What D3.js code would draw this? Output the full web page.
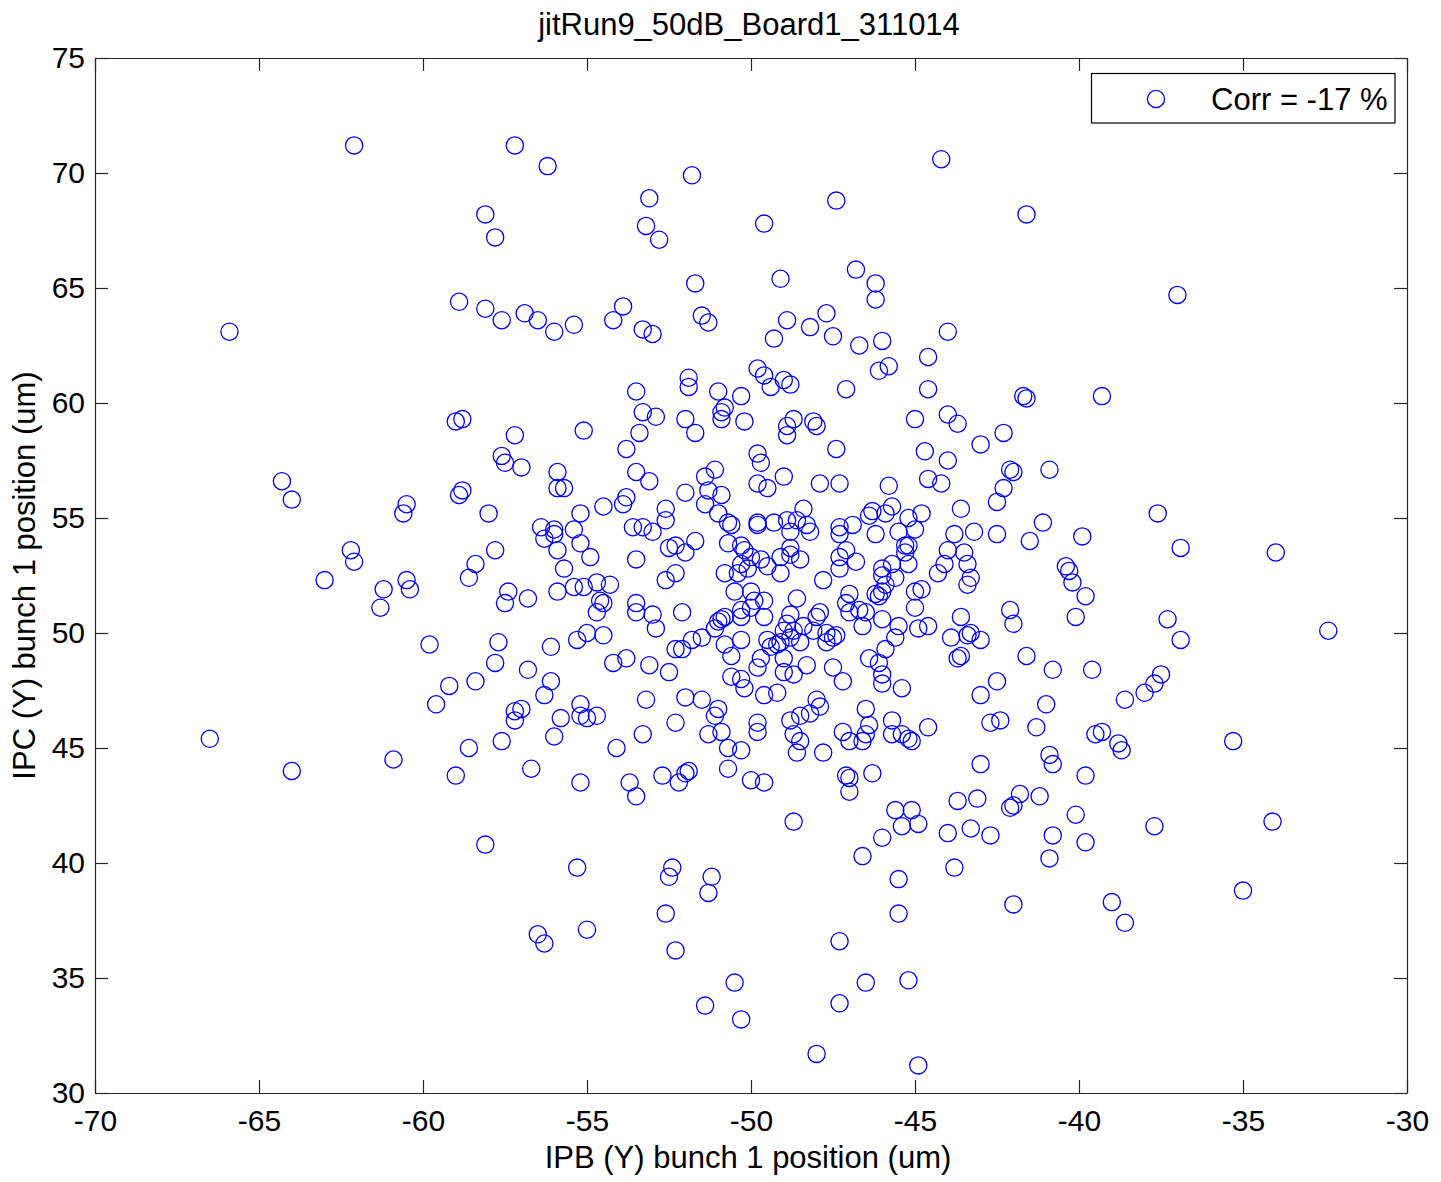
<!DOCTYPE html>
<html><head><meta charset="utf-8">
<script src="https://cdn.jsdelivr.net/npm/d3@7"></script>
<style>
body{margin:0;background:#fff}
svg{display:block}
text{font-family:"Liberation Sans",Arial,Helvetica,sans-serif;fill:#000}
</style>
</head><body>
<svg id="chart" width="1441" height="1182"></svg>
<script>
const titleText = "jitRun9_50dB_Board1_311014";
const xLabelText = "IPB (Y) bunch 1 position (um)";
const yLabelText = "IPC (Y) bunch 1 position (um)";
const legendLabel = "Corr = -17 %";
const xTicks = [-70, -65, -60, -55, -50, -45, -40, -35, -30];
const yTicks = [30, 35, 40, 45, 50, 55, 60, 65, 70, 75];

// [IPB (Y), IPC (Y)] pairs
const pointsUpperLeft = [
  [-62.1,71.2],[-65.9,63.1],[-57.2,71.2],[-56.2,70.3],[-51.8,69.9],[-53.1,68.9],[-58.1,68.2],[-57.8,67.2],[-53.2,67.7],[-52.8,67.1],
  [-51.7,65.2],[-58.9,64.4],[-58.1,64.1],[-57.6,63.6],[-56.9,63.9],[-56.5,63.6],[-56.0,63.1],[-55.4,63.4],[-54.2,63.6],[-53.9,64.2],
  [-53.3,63.2],[-53.0,63.0],[-51.5,63.8],[-51.3,63.5],[-51.9,61.1],[-51.9,60.7],[-53.5,60.5],[-51.0,60.5],[-50.3,60.3]
];
const pointsUpperRight = [
  [-44.2,70.6],[-47.4,68.8],[-49.6,67.8],[-41.6,68.2],[-49.1,65.4],[-46.8,65.8],[-46.2,65.2],[-46.2,64.5],[-48.9,63.6],[-48.2,63.3],
  [-47.7,63.9],[-49.3,62.8],[-47.5,62.9],[-46.7,62.5],[-46.0,62.7],[-44.0,63.1],[-44.6,62.0],[-45.8,61.6],[-46.1,61.4],[-49.8,61.5],
  [-49.6,61.2],[-49.0,61.0],[-49.4,60.7],[-48.8,60.8],[-47.1,60.6],[-44.6,60.6],[-41.7,60.3],[-41.6,60.2],[-37.0,64.7],[-39.3,60.3]
];
const pointsFarLeft = [
  [-64.3,56.6],[-64.0,55.8],[-60.5,55.6],[-60.6,55.2],[-62.2,53.6],[-62.1,53.1],[-63.0,52.3],[-60.5,52.3],[-60.4,51.9],[-61.2,51.9],
  [-61.3,51.1],[-59.8,49.5],[-66.5,45.4],[-64.0,44.0],[-60.9,44.5]
];
const pointsCenterLeft = [
  [-59.0,59.2],[-58.8,59.3],[-57.2,58.6],[-55.1,58.8],[-57.6,57.7],[-57.5,57.4],[-57.0,57.2],[-55.9,57.0],[-55.9,56.3],[-55.7,56.3],
  [-58.9,56.0],[-58.8,56.2],[-58.0,55.2],[-55.2,55.2],[-54.5,55.5],[-53.9,55.6],[-53.8,55.9],[-53.3,59.6],[-52.9,59.4],[-53.4,58.7],
  [-53.8,58.0],[-52.0,59.3],[-51.7,58.7],[-50.9,59.3],[-50.9,59.6],[-50.8,59.8],[-50.2,59.2],[-53.5,57.0],[-53.1,56.6],[-52.0,56.1],
  [-51.4,56.8],[-51.1,57.1],[-51.3,56.2],[-50.9,56.0],[-51.4,55.6],[-51.0,55.2],[-50.7,54.8],[-50.6,54.7],[-50.7,53.9],[-50.3,53.8],
  [-50.2,53.6],[-52.6,55.4],[-52.6,54.9],[-53.6,54.6],[-53.3,54.6],[-53.0,54.4],[-56.4,54.6],[-56.3,54.1],[-56.0,54.5],[-56.0,54.3],
  [-55.4,54.5],[-55.2,53.9],[-55.9,53.6],[-54.9,53.3],[-55.7,52.8],[-57.8,53.6],[-58.4,53.0],[-58.6,52.4],[-52.5,53.7],[-52.3,53.8],
  [-51.7,54.0],[-52.0,53.5],[-53.5,53.2],[-50.8,52.6],[-50.4,52.6],[-50.3,53.0],[-50.1,52.8],[-50.5,51.8],[-52.3,52.6],[-52.6,52.3],
  [-57.4,51.8],[-57.5,51.3],[-56.8,51.5],[-55.9,51.8],[-55.4,52.0],[-55.1,52.0],[-54.7,52.2],[-54.3,52.1],[-54.6,51.4],[-54.5,51.3],
  [-54.7,50.9],[-53.5,51.3],[-53.5,50.9],[-53.0,50.8],[-52.9,50.2],[-52.1,50.9],[-51.0,50.5],[-50.9,50.6],[-50.8,50.7],[-50.3,50.7],
  [-50.3,51.0],[-50.0,51.1],[-51.1,50.2],[-50.3,49.7],[-50.8,49.5],[-50.6,49.0],[-51.5,49.8],[-51.8,49.7],[-52.1,49.3],[-52.3,49.3],
  [-57.7,49.6],[-57.8,48.7],[-56.1,49.4],[-55.3,49.7],[-55.0,50.0],[-54.5,49.9],[-54.2,48.7],[-53.8,48.9],[-53.1,48.6],[-52.5,48.3],
  [-56.8,48.4],[-58.4,47.9],[-59.2,47.7],[-59.6,46.9],[-56.1,47.9],[-56.3,47.3],[-57.2,46.6],[-57.0,46.7],[-57.2,46.2],[-55.2,46.9],
  [-55.2,46.4],[-55.0,46.3],[-54.7,46.4],[-55.8,46.3],[-56.0,45.5],[-57.6,45.3],[-58.6,45.0],[-54.1,45.0],[-53.3,45.6],[-53.2,47.1],
  [-52.0,47.2],[-51.5,47.1],[-51.0,46.7],[-51.1,46.4],[-52.3,46.1],[-51.3,45.6],[-50.9,45.7],[-50.6,48.1],[-50.3,48.0],[-50.2,47.6],
  [-50.7,45.0],[-50.3,44.9]
];
const pointsCenterRight = [
  [-48.7,59.3],[-48.9,59.0],[-48.9,58.6],[-48.1,59.2],[-48.0,59.0],[-47.4,58.0],[-49.8,57.8],[-49.7,57.4],[-49.0,56.8],[-49.8,56.5],
  [-49.5,56.3],[-47.9,56.5],[-47.3,56.5],[-45.0,59.3],[-44.0,59.5],[-43.7,59.1],[-42.3,58.7],[-43.0,58.2],[-44.7,57.9],[-44.0,57.5],
  [-42.1,57.1],[-42.0,57.0],[-40.9,57.1],[-42.3,56.3],[-42.5,55.7],[-44.6,56.7],[-44.2,56.5],[-45.8,56.4],[-43.6,55.4],[-41.1,54.8],
  [-41.5,54.0],[-42.5,54.3],[-43.2,54.4],[-43.8,54.3],[-48.4,55.4],[-46.3,55.3],[-46.4,55.1],[-45.9,55.2],[-45.7,55.5],[-44.8,55.2],
  [-45.2,55.0],[-45.0,54.5],[-45.5,54.4],[-46.2,54.3],[-46.9,54.7],[-47.3,54.6],[-47.3,54.3],[-49.8,54.8],[-49.8,54.7],[-49.3,54.8],
  [-48.9,54.9],[-48.6,54.9],[-48.8,54.4],[-48.3,54.7],[-48.2,54.4],[-48.8,53.7],[-50.0,53.3],[-49.7,53.2],[-49.1,53.3],[-48.8,53.4],
  [-48.5,53.2],[-49.5,52.9],[-49.1,52.6],[-47.1,53.6],[-46.8,53.1],[-47.3,53.3],[-47.3,52.8],[-47.8,52.3],[-45.3,53.8],[-45.2,53.8],
  [-45.3,53.5],[-45.2,53.0],[-46.0,52.8],[-45.7,53.0],[-45.6,52.4],[-46.0,52.5],[-45.9,52.1],[-46.0,51.8],[-46.1,51.6],[-46.2,51.7],
  [-44.0,53.6],[-43.5,53.5],[-44.1,53.0],[-44.3,52.6],[-43.4,53.0],[-43.3,52.4],[-43.4,52.1],[-40.4,52.9],[-40.3,52.7],[-40.2,52.2],
  [-44.8,51.9],[-45.0,51.8],[-45.0,51.1],[-50.0,51.8],[-49.9,51.4],[-49.6,51.4],[-48.6,51.5],[-49.6,50.7],[-47.0,51.7],[-47.1,51.3],
  [-47.0,50.9],[-46.7,51.0],[-46.5,50.9],[-46.6,50.3],[-46.0,50.6],[-48.8,50.8],[-47.9,50.9],[-48.0,50.7],[-48.4,50.3],[-48.9,50.4],
  [-49.0,50.1],[-48.7,50.1],[-48.1,50.1],[-47.7,50.0],[-47.4,49.9],[-47.5,49.8],[-47.7,49.6],[-48.5,49.6],[-48.8,49.8],[-49.1,49.6],
  [-49.2,49.5],[-49.5,49.7],[-49.4,49.4],[-45.5,50.3],[-45.6,49.8],[-45.9,49.3],[-46.4,48.9],[-46.1,48.7],[-44.9,50.2],[-44.6,50.3],
  [-43.6,50.7],[-43.9,49.8],[-43.4,49.9],[-43.3,50.0],[-43.0,49.7],[-43.6,49.0],[-43.7,48.9],[-42.1,51.0],[-42.0,50.4],[-40.1,50.7],
  [-41.6,49.0],[-40.8,48.4],[-42.5,47.9],[-43.0,47.3],[-41.0,46.9],[-41.3,45.9],[-42.7,46.1],[-42.4,46.2],[-44.6,45.9],[-49.7,48.9],
  [-49.8,48.5],[-49.0,48.9],[-49.0,48.3],[-48.7,48.2],[-48.3,48.6],[-47.5,48.5],[-47.2,47.9],[-46.0,48.2],[-46.0,47.8],[-45.4,47.6],
  [-49.6,47.3],[-49.2,47.4],[-48.0,47.1],[-47.9,46.8],[-48.2,46.5],[-48.5,46.4],[-48.8,46.2],[-48.7,45.6],[-48.5,45.3],[-49.8,46.1],
  [-49.8,45.7],[-46.5,46.7],[-46.4,46.0],[-46.5,45.6],[-46.6,45.3],[-47.2,45.7],[-47.0,45.3],[-45.7,46.2],[-45.7,45.6],[-45.4,45.6],
  [-45.2,45.4],[-45.1,45.3],[-47.8,44.8],[-40.9,44.7]
];
const pointsFarRight = [
  [-37.6,55.2],[-39.9,54.2],[-36.9,53.7],[-34.0,53.5],[-39.8,51.6],[-37.3,50.6],[-36.9,49.7],[-32.4,50.1],[-39.6,48.4],[-37.5,48.2],
  [-37.7,47.8],[-38.0,47.4],[-38.6,47.1],[-39.5,45.6],[-39.3,45.7],[-38.8,45.2],[-38.7,44.9],[-35.3,45.3]
];
const pointsLowerLeft = [
  [-59.0,43.8],[-56.7,44.1],[-55.2,43.5],[-53.7,43.5],[-53.5,42.9],[-52.7,43.8],[-52.2,43.5],[-52.0,43.9],[-51.9,44.0],[-50.7,44.1],
  [-58.1,40.8],[-55.3,39.8],[-52.4,39.8],[-52.5,39.4],[-51.2,39.4],[-51.3,38.7],[-52.6,37.8],[-56.5,36.9],[-56.3,36.5],[-55.0,37.1],
  [-52.3,36.2],[-50.5,34.8],[-51.4,33.8],[-50.3,33.2]
];
const pointsLowerRight = [
  [-40.8,44.3],[-43.0,44.3],[-50.0,43.6],[-49.6,43.5],[-47.1,43.8],[-47.0,43.7],[-47.0,43.1],[-46.3,43.9],[-48.7,41.8],[-45.6,42.3],
  [-45.1,42.3],[-45.4,41.6],[-44.9,41.7],[-46.0,41.1],[-46.6,40.3],[-43.7,42.7],[-43.1,42.8],[-41.8,43.0],[-41.2,42.9],[-42.1,42.4],
  [-42.0,42.5],[-44.0,41.3],[-43.3,41.5],[-42.7,41.2],[-40.8,41.2],[-40.9,40.2],[-40.1,42.1],[-43.8,39.8],[-45.5,39.3],[-45.5,37.8],
  [-42.0,38.2],[-47.3,36.6],[-46.5,34.8],[-45.2,34.9],[-47.3,33.9],[-48.0,31.7],[-44.9,31.2],[-48.6,44.8],
  [-39.8,43.8],[-37.7,41.6],[-39.8,40.9],[-34.1,41.8],[-35.0,38.8],[-39.0,38.3],[-38.6,37.4]
];

const points = [].concat(pointsUpperLeft, pointsUpperRight, pointsFarLeft, pointsCenterLeft,
  pointsCenterRight, pointsFarRight, pointsLowerLeft, pointsLowerRight);

const FONT = 31;
const TICK_FONT = 30;
const axisColor = "#262626";
const markerColor = "#0000ff";
const plot = {left: 95, right: 1407, top: 58, bottom: 1093};

const svg = d3.select("#chart");
svg.append("rect").attr("width", 1441).attr("height", 1182).attr("fill", "#fff");

const x = d3.scaleLinear().domain([-70, -30]).range([plot.left, plot.right]);
const y = d3.scaleLinear().domain([30, 75]).range([plot.bottom, plot.top]);

const fmt = d => String(d);
function styleAxis(g) {
  g.selectAll("path.domain").attr("stroke", axisColor).attr("stroke-width", 1.2);
  g.selectAll(".tick line").attr("stroke", axisColor).attr("stroke-width", 1.2);
  g.selectAll(".tick text").attr("font-size", TICK_FONT).attr("fill", "#000")
    .attr("font-family", '"Liberation Sans", Arial, Helvetica, sans-serif');
}

// points (drawn beneath axes)
svg.append("g").selectAll("circle").data(points).join("circle")
  .attr("cx", d => x(d[0])).attr("cy", d => y(d[1])).attr("r", 8.6)
  .attr("fill", "none").attr("stroke", markerColor).attr("stroke-width", 1.3);

const gB = svg.append("g").attr("transform", `translate(0,${plot.bottom})`)
  .call(d3.axisBottom(x).tickValues(xTicks).tickFormat(fmt).tickSizeInner(-13).tickSizeOuter(0).tickPadding(17));
styleAxis(gB);
const gT = svg.append("g").attr("transform", `translate(0,${plot.top})`)
  .call(d3.axisTop(x).tickValues(xTicks).tickFormat("").tickSizeInner(-13).tickSizeOuter(0));
styleAxis(gT);
const gL = svg.append("g").attr("transform", `translate(${plot.left},0)`)
  .call(d3.axisLeft(y).tickValues(yTicks).tickFormat(fmt).tickSizeInner(-13).tickSizeOuter(0).tickPadding(10));
styleAxis(gL);
const gR = svg.append("g").attr("transform", `translate(${plot.right},0)`)
  .call(d3.axisRight(y).tickValues(yTicks).tickFormat("").tickSizeInner(-13).tickSizeOuter(0));
styleAxis(gR);

// title and axis labels
svg.append("text").attr("x", (plot.left + plot.right) / 2 - 2).attr("y", 35)
  .attr("text-anchor", "middle").attr("font-size", FONT).text(titleText);
svg.append("text").attr("x", (plot.left + plot.right) / 2 - 3).attr("y", 1168)
  .attr("text-anchor", "middle").attr("font-size", FONT).text(xLabelText);
svg.append("text").attr("transform", `translate(35,${(plot.top + plot.bottom) / 2}) rotate(-90)`)
  .attr("text-anchor", "middle").attr("font-size", FONT).text(yLabelText);

// legend
const lg = svg.append("g");
lg.append("rect").attr("x", 1091.5).attr("y", 73.5).attr("width", 303.5).attr("height", 49.5)
  .attr("fill", "#fff").attr("stroke", "#000").attr("stroke-width", 1.2);
lg.append("circle").attr("cx", 1156).attr("cy", 99).attr("r", 8.6)
  .attr("fill", "none").attr("stroke", markerColor).attr("stroke-width", 1.3);
lg.append("text").attr("x", 1211).attr("y", 110).attr("font-size", FONT).text(legendLabel);
</script>
</body></html>
